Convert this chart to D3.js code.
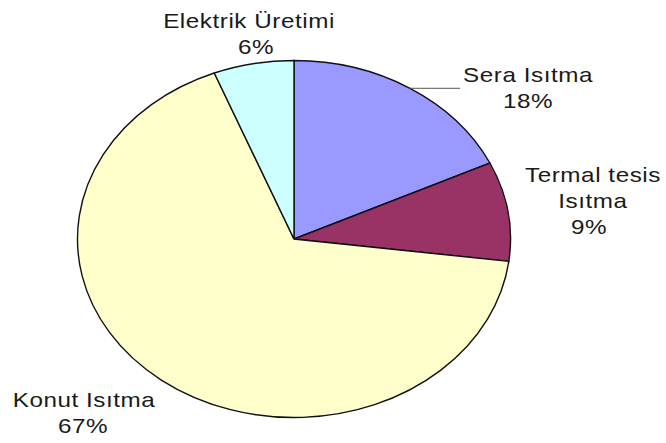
<html>
  <head>
    <meta charset="utf-8">
    <script src="https://d3js.org/d3.v7.min.js"></script>
    <style type="text/css">
      body {
        margin: 0;
        padding: 0;
        background: #fff;
      }
      text {
        font-family: 'Liberation Sans', Arial, sans-serif;
        font-size: 20px;
        letter-spacing: 0.45px;
        fill: #1a1a1a;
      }
    </style>
  </head>
  <body>
    <svg id="chart" width="666" height="443"></svg>
    <script>
      /* Data */
      const categories = ['Sera Isıtma', 'Termal tesis Isıtma', 'Konut Isıtma', 'Elektrik Üretimi']
      const values = [18, 9, 67, 6]
      const colors = ['#9999ff', '#993366', '#ffffcc', '#ccffff']
      // label lines as drawn (name may wrap)
      const labelLines = [
        ['Sera Isıtma', '18%'],
        ['Termal tesis', 'Isıtma', '9%'],
        ['Konut Isıtma', '67%'],
        ['Elektrik Üretimi', '6%']
      ]

      /* Layout (pixels in the final picture) */
      const width = 666
      const height = 443
      const cx = 294
      const cy = 239
      const radius = 178.5
      const stretchX = 1.213 // the original picture is wider than tall
      const lineHeight = 26
      // first baseline of each label, centre x of each line
      const labelPos = [
        { y: 82, xs: [528, 528] },
        { y: 182, xs: [593, 593, 589] },
        { y: 407, xs: [84, 83] },
        { y: 28, xs: [249, 256] }
      ]
      const leaderEndX = 460

      const svg = d3.select('#chart')
      svg.append('rect')
        .attr('width', width)
        .attr('height', height)
        .style('fill', '#fff')

      // everything is drawn in unstretched space, then stretched sideways
      const g = svg.append('g')
        .attr('transform', `scale(${stretchX},1)`)

      const pie = d3.pie().sort(null).value(d => d)
      const arcs = pie(values)
      const arc = d3.arc().innerRadius(0).outerRadius(radius)

      const pieG = g.append('g')
        .attr('transform', `translate(${cx / stretchX},${cy})`)

      pieG.selectAll('path')
        .data(arcs)
        .join('path')
        .attr('d', arc)
        .style('fill', (d, i) => colors[i])
        .style('stroke', '#111')
        .style('stroke-width', 1.4)
        .attr('vector-effect', 'non-scaling-stroke')

      // leader line for the first slice
      const mid = (arcs[0].startAngle + arcs[0].endAngle) / 2
      const lx = Math.sin(mid) * radius
      const ly = -Math.cos(mid) * radius
      pieG.append('line')
        .attr('x1', lx)
        .attr('y1', ly)
        .attr('x2', (leaderEndX - cx) / stretchX)
        .attr('y2', ly)
        .style('stroke', '#555')
        .style('stroke-width', 1)
        .attr('vector-effect', 'non-scaling-stroke')

      // labels
      labelLines.forEach((lines, i) => {
        lines.forEach((t, j) => {
          g.append('text')
            .attr('x', labelPos[i].xs[j] / stretchX)
            .attr('y', labelPos[i].y + j * lineHeight)
            .attr('text-anchor', 'middle')
            .text(t)
        })
      })
    </script>
  </body>
</html>
